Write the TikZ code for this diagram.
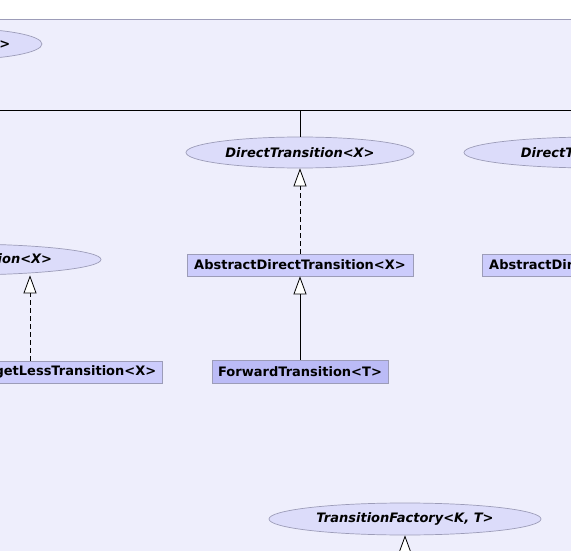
\documentclass[tikz,border=0pt]{standalone}
\usepackage{fontspec}
\setmainfont{DejaVu Sans}
\usetikzlibrary{arrows.meta,shapes.geometric}
\definecolor{paper}{HTML}{EEEEFC}
\definecolor{rim}{HTML}{9C9CB8}
\definecolor{ifill}{HTML}{DCDCFA}
\definecolor{cfill}{HTML}{CCCCFC}
\definecolor{ffill}{HTML}{BBBBF6}
\tikzset{
  iface/.style={ellipse,draw=rim,fill=ifill,line width=0.7pt,minimum height=31pt,
    inner sep=0pt,font=\fontsize{13}{15}\selectfont\bfseries\itshape},
  cls/.style={rectangle,draw=rim,fill=cfill,line width=0.7pt,minimum height=22pt,
    inner sep=0pt,font=\fontsize{13}{15}\selectfont\bfseries},
  focus/.style={cls,fill=ffill},
  opentip/.style={-{Triangle[open,fill=white,length=18pt,width=13pt]}},
  extend/.style={opentip,line width=0.8pt},
  realize/.style={opentip,line width=0.8pt,dash pattern=on 5pt off 3pt}
}
\begin{document}
\begin{tikzpicture}[x=1pt,y=-1pt]
  \useasboundingbox (0,0) rectangle (571,551);
  \clip (0,0) rectangle (571,551);
  % background
  \fill[white] (0,0) rectangle (571,19.5);
  \fill[paper] (0,19.5) rectangle (571,551);
  \draw[rim,line width=0.8pt] (0,19.5) -- (571,19.5);

  % interfaces
  \node[iface,minimum width=168pt] (top) at (-42,44) {Transition<X>};
  \node[iface,minimum width=228pt] (dt) at (300,152.5) {DirectTransition<X>};
  \node[iface,minimum width=263pt] (dtr) at (595.5,152.5) {DirectTransition<X>};
  \node[iface,minimum width=282pt] (tl) at (-40,259.5) {TargetLessTransition<X>};
  \node[iface,minimum width=272pt,minimum height=32pt] (fac) at (405,519) {TransitionFactory<K, T>};

  % classes
  \node[cls,minimum width=226pt] (adt) at (300,265) {AbstractDirectTransition<X>};
  \node[cls,minimum width=226pt] (adtr) at (595,265) {AbstractDirectTransition<X>};
  \node[cls,minimum width=258pt] (tlb) at (33,372) {AbstractTargetLessTransition<X>};
  \node[focus,minimum width=176pt,minimum height=23pt] (fwd) at (300,371.5) {ForwardTransition<T>};

  % connectors
  \coordinate (busL) at (-10,110);
  \coordinate (busR) at (600,110);
  \coordinate (tlx) at (30,0);
  \coordinate (below) at (405,600);
  \draw[line width=0.8pt] (busL) -- (busR);
  \draw[line width=0.8pt] (dt.north) -- (dt.north |- busL);
  \draw[realize] (adt.north) -- (dt.south);
  \draw[extend] (fwd.north) -- (adt.south);
  \draw[realize] (tlb.north -| tlx) -- (tl.south -| tlx);
  \draw[realize] (below) -- (fac.south);
\end{tikzpicture}
\end{document}
